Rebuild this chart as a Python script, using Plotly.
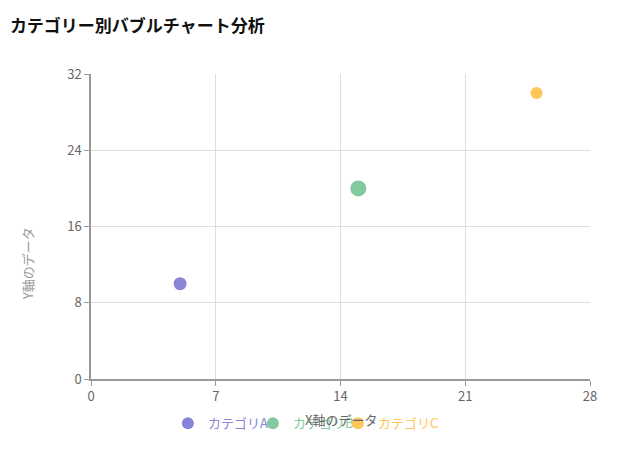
import plotly.graph_objects as go

categories = ["カテゴリA", "カテゴリB", "カテゴリC"]
x_values = [5, 15, 25]
y_values = [10, 20, 30]
bubble_sizes = [13, 16, 12]
colors = ["#8884d8", "#82ca9d", "#ffc658"]
x_ticks = [0, 7, 14, 21, 28]
y_ticks = [0, 8, 16, 24, 32]

FONT = "Noto Sans CJK JP"

fig = go.Figure()
for name, xv, yv, sz, col in zip(categories, x_values, y_values, bubble_sizes, colors):
    fig.add_trace(go.Scatter(
        x=[xv], y=[yv], mode="markers", name=f'<span style="color:{col}">{name}</span>',
        marker=dict(size=sz, color=col, line=dict(width=0)),
    ))
# empty spacer entry so the last legend label is not clipped
fig.add_trace(go.Scatter(x=[None], y=[None], mode="markers", name=" ",
                         marker=dict(color="rgba(0,0,0,0)"), hoverinfo="skip"))

fig.update_layout(
    width=627, height=464,
    margin=dict(l=83, r=45, t=66, b=93, autoexpand=False),
    paper_bgcolor="white", plot_bgcolor="white",
    font=dict(family=FONT, size=13, color="#666"),
    title=dict(text="<b>カテゴリー別バブルチャート分析</b>", x=0.003, xanchor="left",
               y=0.962, yanchor="middle", font=dict(size=17, color="#111", family=FONT)),
    showlegend=True,
    legend=dict(orientation="h", xref="container", x=0.255, xanchor="left",
                yref="container", y=0.105, yanchor="middle",
                entrywidth=40, entrywidthmode="pixels", itemwidth=30, itemsizing="constant",
                font=dict(size=13, family=FONT), bgcolor="rgba(0,0,0,0)"),
    xaxis=dict(range=[0, 28], tickvals=x_ticks, showgrid=True, gridcolor="#dddddd",
               zeroline=False, showline=True, linecolor="#999", linewidth=1.5,
               ticks="outside", ticklen=5, tickcolor="#999", tickfont=dict(size=13, color="#666"),
               fixedrange=True),
    yaxis=dict(range=[0, 32], tickvals=y_ticks, showgrid=True, gridcolor="#dddddd",
               zeroline=False, showline=True, linecolor="#999", linewidth=1.5,
               ticks="outside", ticklen=5, tickcolor="#999", tickfont=dict(size=13, color="#666"),
               fixedrange=True),
    annotations=[
        dict(text="X軸のデータ", xref="paper", yref="paper", x=0.5, y=-0.134,
             xanchor="center", yanchor="middle", showarrow=False,
             font=dict(size=13, color="#666", family=FONT)),
        dict(text="Y軸のデータ", xref="paper", yref="paper", x=-0.128, y=0.377,
             xanchor="center", yanchor="middle", showarrow=False, textangle=-90,
             font=dict(size=13, color="#999", family=FONT)),
    ],
)
fig.write_html("out.html")
